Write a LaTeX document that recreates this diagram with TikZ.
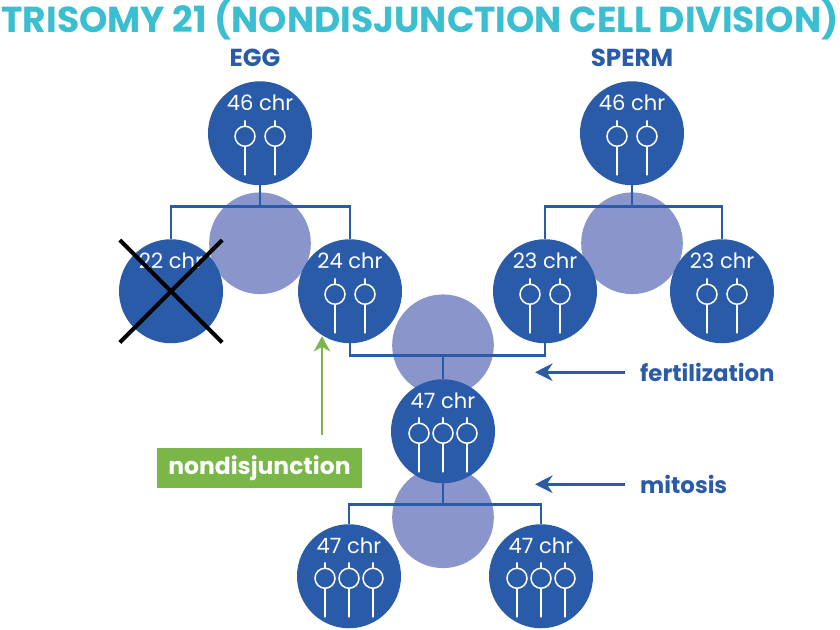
\documentclass[tikz,border=0pt]{standalone}
\usepackage{fontspec}
\setmainfont{Poppins}
\usepackage{tikz}
\usetikzlibrary{arrows.meta,positioning,calc,shapes.misc}

\definecolor{cellblue}{HTML}{2A5BA8}
\definecolor{paleblue}{HTML}{8A96CB}
\definecolor{titlecyan}{HTML}{3BBFD0}
\definecolor{leafgreen}{HTML}{7AB648}

\begin{document}
\begin{tikzpicture}[
  x=0.03cm, y=-0.03cm,
  cell/.style={circle, fill=cellblue, minimum size=3.12cm, inner sep=0pt},
  shade/.style={circle, fill=paleblue, minimum size=3.05cm, inner sep=0pt},
  link/.style={draw=cellblue, line width=2.2pt},
  count/.style={text=white, font=\fontsize{18}{20}\selectfont, inner sep=0pt},
  stage/.style={text=cellblue, font=\bfseries\fontsize{19.5}{22}\selectfont},
  pointer/.style={-{Stealth[length=15pt, width=15pt, inset=5pt]}, draw=cellblue, line width=2.2pt},
  chromo/.pic={\draw[white, line width=1.3pt] (0,-16) -- (0,-10) (0,0) circle (10) (0,10) -- (0,39);},
]
\fill[white] (0,0) rectangle (840,626);
\node[text=titlecyan, font=\bfseries, inner sep=0pt] (title) at (420,17) {\resizebox{25.1cm}{!}{TRISOMY 21 (NONDISJUNCTION CELL DIVISION)}};

\node[shade] (b1) at (260,240) {};
\node[shade] (b2) at (632,240) {};
\node[shade] (b3) at (443,342) {};
\node[shade] (b4) at (443,514) {};

\node[cell] (egg) at (260,130) {};
\node[cell] (sperm) at (632,130) {};
\node[cell] (e22) at (171,288) {};
\node[cell] (e24) at (350,288) {};
\node[cell] (s23a) at (545,288) {};
\node[cell] (s23b) at (722,288) {};
\node[cell] (zyg) at (443,428) {};
\node[cell] (d1) at (349,573) {};
\node[cell] (d2) at (541,573) {};

\draw[link] (egg.south) -- ++(0,21) coordinate (es) (e22.north) |- (es) -| (e24.north);
\draw[link] (sperm.south) -- ++(0,21) coordinate (ss) (s23a.north) |- (ss) -| (s23b.north);
\draw[link] (e24.south) -- ++(0,12) coordinate (fz) -| (s23a.south) (fz -| zyg.north) -- (zyg.north);
\draw[link] (zyg.south) -- ++(0,21) coordinate (mz) (d1.north) |- (mz) -| (d2.north);

\node[stage, font=\bfseries\fontsize{21}{24}\selectfont, above=0.3cm of egg, xshift=-0.15cm] (egglab) {EGG};
\node[stage, font=\bfseries\fontsize{21}{24}\selectfont, above=0.3cm of sperm] (spermlab) {SPERM};

\foreach \c/\n in {egg/46, sperm/46, e22/22, e24/24, s23a/23, s23b/23, zyg/47, d1/47, d2/47}
  \node[count] at ($(\c)+(0,-30)$) {\n\ chr};
\foreach \c in {egg, sperm, e24, s23a, s23b}
  \foreach \dx in {-15,15} \pic at ($(\c)+(\dx,3)$) {chromo};
\foreach \c in {zyg, d1, d2}
  \foreach \dx in {-24,0,24} \pic at ($(\c)+(\dx,2)$) {chromo};

\node[cross out, draw=black, line width=3.4pt, minimum size=2.95cm, inner sep=0pt] (x22) at (e22) {};

\node[stage, anchor=west, inner sep=0pt] (fert) at (640,369) {fertilization};
\node[stage, anchor=west, inner sep=0pt] (mit) at (640,481) {mitosis};
\coordinate (fertend) at (535,374);
\coordinate (mitend) at (535,484);
\draw[pointer] ([xshift=-0.45cm]fert.west) -- (fertend |- fert.west);
\draw[pointer] ([xshift=-0.45cm]mit.west) -- (mitend |- mit.west);

\node[fill=leafgreen, text=white, font=\bfseries\fontsize{20}{22}\selectfont, minimum width=6.15cm, minimum height=1.2cm] (ndj) at (259.5,465) {nondisjunction};
\coordinate (ndtip) at (322,333);
\draw[-{Stealth[length=13pt, width=14pt, inset=4pt]}, draw=leafgreen, line width=1.6pt, shorten <=0.39cm] (ndtip |- ndj.north) -- (ndtip);
\end{tikzpicture}
\end{document}
